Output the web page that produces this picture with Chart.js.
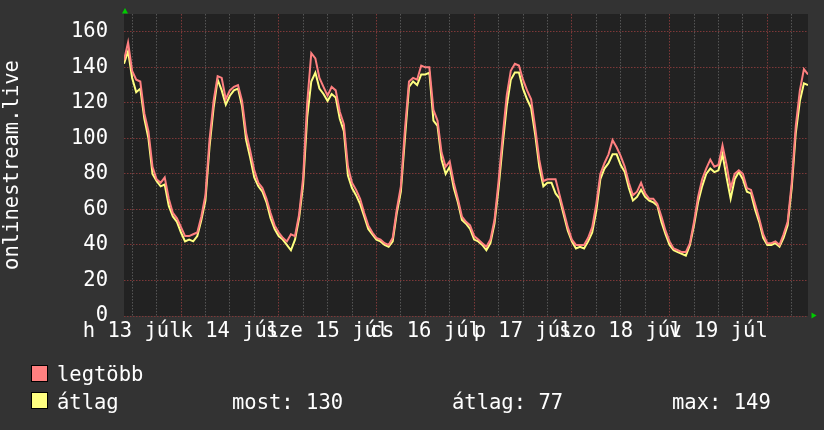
<!DOCTYPE html>
<html>
<head>
<meta charset="utf-8">
<script src="https://cdn.jsdelivr.net/npm/chart.js@4.4.1/dist/chart.umd.min.js"></script>
<style>
  html, body { margin: 0; padding: 0; background: #333333; }
  #wrap { position: relative; width: 824px; height: 430px; overflow: hidden; }
  #chart { position: absolute; left: 0; top: 0; }
  .lg { position: absolute; font-family: 'DejaVu Sans Mono', monospace; font-size: 20.5px;
        line-height: 20px; color: #ffffff; white-space: pre; }
  .box { position: absolute; width: 17px; height: 17px; box-sizing: border-box; border: 1px solid #000; }
</style>
</head>
<body>
<div id="wrap">
  <canvas id="chart" width="824" height="430"></canvas>
</div>
<script>
// hours since júl 13 00:00, one sample per hour
const startHour = 10;

// átlag (average) per hour, júl 13 10:00 .. júl 20 10:00
const avgData = [
  142, 149, 134, 126, 128, 111, 100, 80, 76, 73,
  74, 62, 56, 53, 47, 42, 43, 42, 45, 54,
  65, 95, 117, 133, 127, 119, 124, 127, 128, 118,
  99, 89, 78, 73, 70, 64, 55, 49, 45, 43,
  40, 37, 43, 55, 74, 112, 132, 137, 128, 125,
  121, 125, 123, 111, 104, 79, 72, 68, 63, 56,
  49, 46, 43, 42, 40, 39, 42, 58, 70, 100,
  129, 132, 130, 136, 136, 137, 110, 107, 88, 80,
  84, 72, 64, 54, 52, 49, 43, 42, 40, 37,
  41, 52, 72, 96, 118, 133, 137, 137, 128, 122,
  117, 102, 84, 73, 75, 75, 69, 66, 57, 48,
  42, 38, 39, 38, 42, 47, 59, 77, 83, 86,
  91, 91, 85, 81, 72, 65, 67, 71, 67, 65,
  64, 62, 53, 46, 40, 37, 36, 35, 34, 40,
  51, 64, 73, 80, 83, 81, 82, 91, 78, 66,
  77, 81, 77, 70, 69, 60, 53, 44, 40, 40,
  41, 39, 44, 51, 72, 103, 121, 131, 130
];

// legtöbb (maximum) per hour
const maxData = [
  144, 154, 138, 133, 132, 114, 104, 84, 77, 75,
  78, 66, 58, 55, 50, 45, 45, 46, 47, 56,
  68, 99, 121, 135, 134, 122, 127, 129, 130, 121,
  103, 93, 82, 75, 72, 66, 58, 51, 47, 44,
  42, 46, 45, 57, 78, 120, 148, 145, 134, 129,
  124, 129, 127, 115, 108, 84, 75, 71, 66, 58,
  51, 47, 44, 43, 41, 40, 44, 60, 73, 105,
  132, 134, 133, 141, 140, 140, 116, 110, 92, 84,
  87, 75, 66, 56, 53, 51, 45, 43, 41, 39,
  43, 54, 76, 101, 124, 138, 142, 141, 133, 127,
  122, 106, 88, 76, 77, 77, 77, 68, 59, 50,
  43, 40, 40, 40, 44, 50, 63, 80, 86, 91,
  99, 95, 90, 84, 75, 68, 70, 75, 69, 66,
  66, 63, 56, 48, 42, 38, 37, 36, 36, 41,
  53, 67, 77, 83, 88, 84, 85, 96, 85, 72,
  80, 82, 80, 72, 71, 63, 55, 46, 41, 41,
  42, 40, 46, 53, 75, 107, 127, 139, 136
];

// labels sit at noon of each day
const dayLabels = ['h 13 júl', 'k 14 júl', 'sze 15 júl', 'cs 16 júl', 'p 17 júl', 'szo 18 júl', 'v 19 júl'];
const yLabelStep = 20;

const seriesNames = ['legtöbb', 'átlag'];
const seriesColors = ['#ff8080', '#ffff80'];
const statNames = ['most', 'átlag', 'max'];
const statValues = [130, 77, 149];
const yAxisTitle = 'onlinestream.live';

const FONT = 'DejaVu Sans Mono';
const MINOR = '#555555';
const MAJOR = '#7d3838';

const toPoints = arr => arr.map((v, i) => ({ x: startHour + i, y: v }));

const rrdLook = {
  id: 'rrdLook',
  beforeDraw(chart) {
    const { ctx, chartArea: a } = chart;
    ctx.save();
    ctx.fillStyle = '#333333';
    ctx.fillRect(0, 0, chart.width, chart.height);
    ctx.fillStyle = '#222222';
    ctx.fillRect(a.left, a.top, a.right - a.left, a.bottom - a.top);
    ctx.restore();
  },
  afterDraw(chart) {
    const { ctx, chartArea: a } = chart;
    ctx.save();
    ctx.fillStyle = '#00cc00';
    // up arrow on top of y axis
    ctx.beginPath();
    ctx.moveTo(a.left + 1, a.top - 6);
    ctx.lineTo(a.left + 4, a.top - 0.5);
    ctx.lineTo(a.left - 2, a.top - 0.5);
    ctx.fill();
    // right arrow at end of x axis
    ctx.beginPath();
    ctx.moveTo(a.right + 8.5, a.bottom - 0.5);
    ctx.lineTo(a.right + 3.5, a.bottom - 3.5);
    ctx.lineTo(a.right + 3.5, a.bottom + 2.5);
    ctx.fill();
    ctx.restore();
  }
};

new Chart(document.getElementById('chart'), {
  type: 'line',
  data: {
    datasets: [
      { label: seriesNames[0], data: toPoints(maxData), borderColor: seriesColors[0], borderWidth: 2, pointRadius: 0, tension: 0 },
      { label: seriesNames[1], data: toPoints(avgData), borderColor: seriesColors[1], borderWidth: 2, pointRadius: 0, tension: 0 }
    ]
  },
  options: {
    responsive: false,
    animation: false,
    events: [],
    devicePixelRatio: 1,
    layout: { padding: { left: 0, right: 16, top: 14, bottom: 0 } },
    plugins: { legend: { display: false }, tooltip: { enabled: false } },
    scales: {
      x: {
        type: 'linear',
        min: startHour,
        max: startHour + avgData.length - 1,
        afterBuildTicks(scale) {
          const t = [];
          for (let h = 12; h < scale.max; h += 6) t.push({ value: h });
          scale.ticks = t;
        },
        afterFit(scale) {
          scale.height = 114;
          scale.paddingLeft = 0;
          scale.paddingRight = 0;
        },
        grid: {
          drawTicks: false,
          color: c => (c.tick && c.tick.value % 24 === 0) ? MAJOR : MINOR
        },
        border: { display: false, dash: [1.5, 1.5] },
        ticks: {
          autoSkip: false,
          maxRotation: 0,
          minRotation: 0,
          padding: 3,
          color: '#ffffff',
          font: { family: FONT, size: 20.5 },
          callback: v => (v % 24 === 12) ? dayLabels[(v - 12) / 24] : ''
        }
      },
      y: {
        min: 0,
        max: 170,
        afterBuildTicks(scale) {
          const t = [];
          for (let v = 0; v < 170; v += 5) t.push({ value: v });
          scale.ticks = t;
        },
        afterFit(scale) {
          scale.width = 124;
          scale.paddingTop = 0;
          scale.paddingBottom = 0;
        },
        grid: {
          drawTicks: false,
          color: c => (c.tick && c.tick.value % yLabelStep === 0) ? MAJOR : MINOR
        },
        border: { display: false, dash: [1.5, 1.5] },
        title: {
          display: true,
          text: yAxisTitle,
          color: '#ffffff',
          padding: 0,
          font: { family: FONT, size: 20.5 }
        },
        ticks: {
          padding: 16,
          color: '#ffffff',
          font: { family: FONT, size: 20.5 },
          callback: v => (v % yLabelStep === 0) ? String(v) : ''
        }
      }
    }
  },
  plugins: [rrdLook]
});

// legend (rrdtool style, below the graph)
const wrap = document.getElementById('wrap');
function addText(txt, left, baseline) {
  const d = document.createElement('div');
  d.className = 'lg';
  d.textContent = txt;
  d.style.left = left + 'px';
  d.style.top = (baseline - 17) + 'px';
  wrap.appendChild(d);
}
const rowBaselines = [381, 408.5];
seriesNames.forEach((name, i) => {
  const b = document.createElement('div');
  b.className = 'box';
  b.style.left = '31px';
  b.style.top = (rowBaselines[i] - 16.5) + 'px';
  b.style.background = seriesColors[i];
  wrap.appendChild(b);
  addText(name, 57, rowBaselines[i]);
});
const statLeft = [232, 452, 672];
statNames.forEach((n, i) => addText(n + ': ' + statValues[i], statLeft[i], rowBaselines[1]));
</script>
</body>
</html>
